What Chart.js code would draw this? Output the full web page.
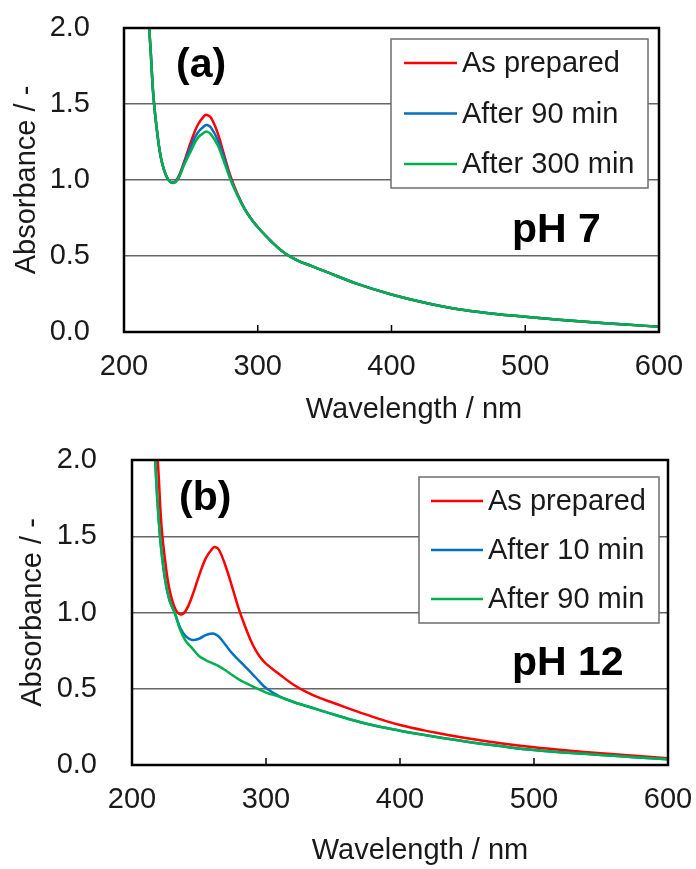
<!DOCTYPE html>
<html lang="en">
<head>
<meta charset="UTF-8">
<title>Absorbance spectra</title>
<script src="https://cdn.jsdelivr.net/npm/chart.js"></script>
<style>
  body { margin: 0; padding: 0; background: #fff; }
  canvas { display: block; }
</style>
</head>
<body>
<canvas id="chartA" width="696" height="430"></canvas>
<canvas id="chartB" width="696" height="439"></canvas>
<script>
// wavelength grid (nm) shared by every curve
const wavelengths = [216, 218, 220, 222, 225, 228, 232, 236, 240, 245, 250, 255, 260, 262, 265, 270, 275, 280, 285, 290,
                     295, 300, 310, 320, 330, 340, 350, 375, 400, 425, 450, 475, 500, 525, 550, 575, 600];

// (a) pH 7
const ph7Prepared = [2.45, 2.12, 1.84, 1.55, 1.30, 1.13, 1.02, 0.982, 1.01, 1.12, 1.25, 1.36, 1.422, 1.428, 1.41, 1.31, 1.16, 1.015, 0.905, 0.815,
                     0.745, 0.69, 0.597, 0.52, 0.47, 0.435, 0.40, 0.315, 0.247, 0.193, 0.15, 0.122, 0.10, 0.081, 0.064, 0.049, 0.035];
const ph7After90  = [2.45, 2.12, 1.84, 1.55, 1.30, 1.13, 1.02, 0.982, 1.005, 1.11, 1.22, 1.31, 1.355, 1.362, 1.345, 1.265, 1.14, 1.0, 0.90, 0.812,
                     0.745, 0.69, 0.597, 0.52, 0.47, 0.435, 0.40, 0.315, 0.247, 0.193, 0.15, 0.122, 0.10, 0.081, 0.064, 0.049, 0.035];
const ph7After300 = [2.45, 2.12, 1.84, 1.55, 1.30, 1.13, 1.02, 0.982, 1.0, 1.10, 1.19, 1.275, 1.312, 1.318, 1.30, 1.23, 1.115, 0.993, 0.895, 0.81,
                     0.745, 0.69, 0.597, 0.52, 0.47, 0.435, 0.40, 0.315, 0.247, 0.193, 0.15, 0.122, 0.10, 0.081, 0.064, 0.049, 0.035];

// (b) pH 12
const ph12Prepared = [2.55, 2.2, 1.88, 1.57, 1.32, 1.15, 1.03, 0.988, 1.01, 1.11, 1.24, 1.355, 1.42, 1.43, 1.41, 1.30, 1.16, 1.015, 0.895, 0.79,
                      0.715, 0.665, 0.595, 0.53, 0.48, 0.44, 0.408, 0.33, 0.262, 0.215, 0.175, 0.143, 0.116, 0.095, 0.077, 0.06, 0.044];
const ph12After10  = [2.3, 1.88, 1.6, 1.40, 1.20, 1.08, 0.995, 0.90, 0.845, 0.82, 0.828, 0.852, 0.862, 0.858, 0.84, 0.785, 0.73, 0.685, 0.64, 0.595,
                      0.548, 0.505, 0.45, 0.415, 0.387, 0.36, 0.333, 0.27, 0.225, 0.187, 0.153, 0.124, 0.098, 0.081, 0.066, 0.051, 0.037];
const ph12After90  = [2.3, 1.88, 1.6, 1.40, 1.20, 1.08, 0.995, 0.885, 0.815, 0.765, 0.715, 0.688, 0.668, 0.66, 0.647, 0.62, 0.588, 0.56, 0.537, 0.515,
                      0.495, 0.475, 0.447, 0.415, 0.387, 0.36, 0.333, 0.27, 0.225, 0.187, 0.153, 0.124, 0.098, 0.081, 0.066, 0.051, 0.037];

const labelsA = ['As prepared', 'After 90 min', 'After 300 min'];
const labelsB = ['As prepared', 'After 10 min', 'After 90 min'];
const colors = ['#ff0000', '#0070c0', '#00b050'];

const FONT = '"Liberation Sans", Arial, sans-serif';
const TEXT = '#1a1a1a';

// frame, inward ticks, legend box and panel labels
const decorations = {
  id: 'decorations',
  afterDatasetsDraw(chart, args, o) {
    const { ctx, chartArea: a, scales: { x } } = chart;
    ctx.save();

    // small inward tick marks on the wavelength axis
    ctx.strokeStyle = '#000';
    ctx.lineWidth = 1.5;
    x.ticks.forEach(t => {
      const px = x.getPixelForValue(t.value);
      ctx.beginPath();
      ctx.moveTo(px, a.bottom);
      ctx.lineTo(px, a.bottom - 7);
      ctx.stroke();
    });

    // plot frame
    ctx.lineWidth = 2.5;
    ctx.strokeRect(a.left, a.top, a.right - a.left, a.bottom - a.top);

    // legend
    const L = o.legend;
    ctx.fillStyle = '#fff';
    ctx.fillRect(L.x, L.y, L.w, L.h);
    ctx.strokeStyle = '#6e6e6e';
    ctx.lineWidth = 1.5;
    ctx.strokeRect(L.x, L.y, L.w, L.h);
    ctx.font = '29px ' + FONT;
    ctx.textBaseline = 'middle';
    ctx.textAlign = 'left';
    chart.data.datasets.forEach((ds, i) => {
      const y = L.row0 + i * L.step;
      ctx.strokeStyle = ds.borderColor;
      ctx.lineWidth = 2.5;
      ctx.beginPath();
      ctx.moveTo(L.lineX, y);
      ctx.lineTo(L.lineX + L.lineLen, y);
      ctx.stroke();
      ctx.fillStyle = TEXT;
      ctx.fillText(ds.label, L.textX, y + 1);
    });

    // panel letter and pH note
    ctx.fillStyle = '#000';
    ctx.font = 'bold 41px ' + FONT;
    ctx.textBaseline = 'alphabetic';
    ctx.fillText(o.panel, o.panelX, o.panelY);
    ctx.fillText(o.ph, o.phX, o.phY);

    // wavelength axis title
    ctx.fillStyle = TEXT;
    ctx.font = '29px ' + FONT;
    ctx.textAlign = 'center';
    ctx.textBaseline = 'middle';
    ctx.fillText(o.xTitle, o.xTitleX, o.xTitleY);

    ctx.restore();
  }
};

function series(values) {
  return wavelengths.map((w, i) => ({ x: w, y: values[i] }));
}

function makeChart(id, labels, values, layout) {
  const datasets = labels.map((lab, i) => ({
    label: lab,
    data: series(values[i]),
    borderColor: colors[i],
    backgroundColor: colors[i],
    order: labels.length - i   // green on top, red at the back
  }));

  return new Chart(document.getElementById(id), {
    type: 'line',
    data: { datasets },
    plugins: [decorations],
    options: {
      responsive: false,
      animation: false,
      layout: { padding: layout.padding },
      elements: {
        point: { radius: 0 },
        line: { borderWidth: 2.5, tension: 0.4 }
      },
      plugins: {
        legend: { display: false },
        tooltip: { enabled: false },
        decorations: layout.deco
      },
      scales: {
        x: {
          type: 'linear',
          min: 200,
          max: 600,
          ticks: { stepSize: 100, padding: 0, color: TEXT, font: { family: FONT, size: 29 } },
          // invisible tick marks just push the labels down
          grid: { drawOnChartArea: false, drawTicks: true, tickLength: layout.xTickGap, tickColor: 'transparent' },
          border: { display: false },
          afterFit(s) { s.height = layout.xHeight; }
        },
        y: {
          min: 0,
          max: 2,
          ticks: {
            stepSize: 0.5,
            padding: 0,
            color: TEXT,
            font: { family: FONT, size: 29 },
            callback: v => v.toFixed(1)
          },
          grid: { color: '#666', lineWidth: 1.5, drawTicks: true, tickLength: layout.yTickGap, tickColor: 'transparent' },
          border: { display: false },
          title: {
            display: true,
            text: 'Absorbance / -',
            color: TEXT,
            font: { family: FONT, size: 29 },
            padding: { top: layout.yTitlePad, bottom: 0 }
          },
          afterFit(s) { s.width = layout.yWidth; }
        }
      }
    }
  });
}

makeChart('chartA', labelsA, [ph7Prepared, ph7After90, ph7After300], {
  padding: { left: 0, right: 37, top: 28, bottom: 0 },
  xHeight: 98, yWidth: 124, xTickGap: 18, yTickGap: 34, yTitlePad: 10,
  deco: {
    legend: { x: 391, y: 39, w: 257, h: 149, row0: 63, step: 50.5, lineX: 404, lineLen: 53, textX: 462 },
    panel: '(a)', panelX: 176, panelY: 77,
    ph: 'pH 7', phX: 512, phY: 242,
    xTitle: 'Wavelength / nm', xTitleX: 414, xTitleY: 410
  }
});

makeChart('chartB', labelsB, [ph12Prepared, ph12After10, ph12After90], {
  padding: { left: 0, right: 28, top: 30, bottom: 0 },
  xHeight: 104, yWidth: 132, xTickGap: 18, yTickGap: 35, yTitlePad: 16,
  deco: {
    legend: { x: 419, y: 47, w: 240, h: 146, row0: 71, step: 49, lineX: 431, lineLen: 52, textX: 488 },
    panel: '(b)', panelX: 179, panelY: 80,
    ph: 'pH 12', phX: 512, phY: 245,
    xTitle: 'Wavelength / nm', xTitleX: 420, xTitleY: 421
  }
});
</script>
</body>
</html>
